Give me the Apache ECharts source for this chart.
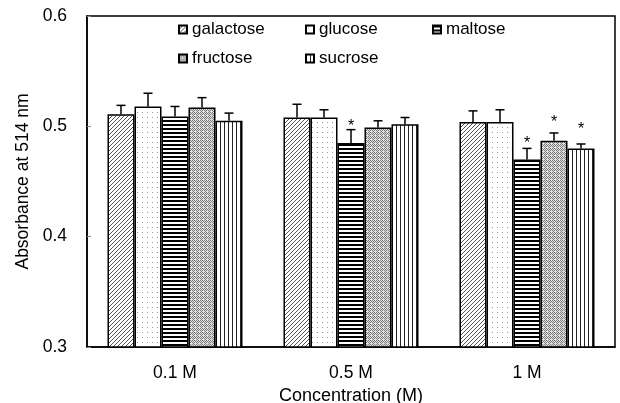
<!DOCTYPE html>
<html>
<head>
<meta charset="utf-8">
<script src="https://cdn.jsdelivr.net/npm/echarts@6/dist/echarts.min.js"></script>
<style>html,body{margin:0;padding:0;background:#fff}#c{width:620px;height:403px}</style>
</head>
<body>
<div id="c"></div>
<script>
const categories = ['0.1 M', '0.5 M', '1 M'];
const seriesNames = ['galactose', 'glucose', 'maltose', 'fructose', 'sucrose'];
const galactose = [0.511, 0.508, 0.504];
const glucose   = [0.518, 0.508, 0.504];
const maltose   = [0.509, 0.485, 0.470];
const fructose  = [0.517, 0.499, 0.487];
const sucrose   = [0.505, 0.502, 0.480];
const galactoseErr = [0.008, 0.012, 0.010];
const glucoseErr   = [0.012, 0.007, 0.011];
const maltoseErr   = [0.009, 0.012, 0.010];
const fructoseErr  = [0.009, 0.006, 0.007];
const sucroseErr   = [0.007, 0.006, 0.004];
// asterisk positions (value on y-axis), null = no mark
const galactoseStar = [null, null, null];
const glucoseStar   = [null, null, null];
const maltoseStar   = [null, 0.5031, 0.4883];
const fructoseStar  = [null, null, 0.507];
const sucroseStar   = [null, null, 0.5004];
const yTicks = [0.3, 0.4, 0.5, 0.6];

const values = [galactose, glucose, maltose, fructose, sucrose];
const errs = [galactoseErr, glucoseErr, maltoseErr, fructoseErr, sucroseErr];
const stars = [galactoseStar, glucoseStar, maltoseStar, fructoseStar, sucroseStar];

const FONT = 'Liberation Sans, Arial, sans-serif';
const BW = 27;

function mk(w, h, draw) {
  const c = document.createElement('canvas');
  c.width = w; c.height = h;
  const g = c.getContext('2d');
  g.fillStyle = '#fff'; g.fillRect(0, 0, w, h);
  draw(g);
  return c;
}
const patterns = [
  // diagonal lines
  mk(4, 4, g => {
    g.fillStyle = '#555';
    for (let i = 0; i < 4; i++) { g.fillRect(3 - i, i, 1, 1); }
  }),
  // sparse dots
  mk(5, 5, g => {
    g.fillStyle = '#999';
    g.fillRect(2, 2, 1, 1);
  }),
  // thick horizontal stripes
  mk(4, 4, g => {
    g.fillStyle = '#000';
    g.fillRect(0, 0, 4, 2);
  }),
  // gray checker
  mk(4, 4, g => {
    g.fillStyle = '#e2e2e2'; g.fillRect(0, 0, 4, 4);
    g.fillStyle = '#7a7a7a';
    g.fillRect(0, 0, 1, 1); g.fillRect(2, 0, 1, 1);
    g.fillRect(1, 1, 1, 1); g.fillRect(3, 1, 1, 1);
    g.fillRect(0, 2, 1, 1); g.fillRect(2, 2, 1, 1);
    g.fillRect(1, 3, 1, 1);
  }),
  // vertical lines
  mk(4, 4, g => {
    g.fillStyle = '#222';
    g.fillRect(0, 0, 1, 4);
  })
];

const series = seriesNames.map((name, i) => ({
  name, type: 'bar', barWidth: BW, barGap: '0%',
  data: values[i],
  itemStyle: { color: { image: patterns[i], repeat: 'repeat' }, borderColor: '#000', borderWidth: 1.5 },
  emphasis: { disabled: true },
  z: 2
}));

const errData = [];
seriesNames.forEach((n, si) => {
  categories.forEach((c, ci) => {
    errData.push([ci, values[si][ci], errs[si][ci], stars[si][ci] == null ? -1 : stars[si][ci], si]);
  });
});

series.push({
  type: 'custom', name: 'err', z: 5, silent: true,
  data: errData,
  encode: { x: 0, y: 1 },
  renderItem: function (params, api) {
    const ci = api.value(0), v = api.value(1), e = api.value(2), st = api.value(3), si = api.value(4);
    const base = api.coord([ci, v]);
    const top = api.coord([ci, v + e]);
    const x = base[0] + (si - 2) * BW;
    const ch = [
      { type: 'line', shape: { x1: x, y1: base[1], x2: x, y2: top[1] }, style: { stroke: '#000', lineWidth: 1.5 } },
      { type: 'line', shape: { x1: x - 4.5, y1: top[1], x2: x + 4.5, y2: top[1] }, style: { stroke: '#000', lineWidth: 1.5 } }
    ];
    if (st > 0) {
      const sp = api.coord([ci, st]);
      ch.push({ type: 'text', x: x, y: sp[1] + 4, style: { text: '*', fill: '#000', font: '16px ' + FONT, align: 'center', verticalAlign: 'middle' } });
    }
    return { type: 'group', children: ch };
  }
});

const legendPos = [[173, 16], [300, 16], [427, 16], [173, 45], [300, 45]];
const legends = seriesNames.map((n, i) => ({
  data: [n], left: legendPos[i][0], top: legendPos[i][1], orient: 'horizontal',
  itemWidth: 8, itemHeight: 8, icon: 'rect', selectedMode: false,
  textStyle: { fontSize: 17, color: '#000', fontFamily: FONT }
}));

const chart = echarts.init(document.getElementById('c'), null, { renderer: 'canvas' });
chart.setOption({
  animation: false,
  backgroundColor: '#fff',
  grid: { left: 87, right: 5, top: 16, bottom: 56, show: true, borderColor: '#000', borderWidth: 1.5, backgroundColor: 'transparent', containLabel: false, outerBoundsMode: 'none' },
  legend: legends,
  xAxis: {
    type: 'category', data: categories,
    axisLine: { lineStyle: { color: '#000', width: 1.5 } },
    axisTick: { inside: true, length: 3, lineStyle: { color: '#888' } },
    axisLabel: { fontSize: 17.5, color: '#000', fontFamily: FONT, margin: 17 },
    name: 'Concentration (M)', nameLocation: 'middle', nameGap: 37,
    nameTextStyle: { fontSize: 18, color: '#000', fontFamily: FONT }
  },
  yAxis: {
    type: 'value', min: yTicks[0], max: yTicks[yTicks.length - 1], interval: 0.1,
    axisLine: { show: true, lineStyle: { color: '#000', width: 1.5 } },
    axisTick: { show: true, inside: true, length: 4, lineStyle: { color: '#888' } },
    splitLine: { show: false },
    axisLabel: { fontSize: 17.5, color: '#000', fontFamily: FONT, margin: 20, formatter: v => v.toFixed(1) },
    name: 'Absorbance at 514 nm', nameLocation: 'middle', nameGap: 54,
    nameTextStyle: { fontSize: 17.5, color: '#000', fontFamily: FONT }
  },
  series
});
</script>
</body>
</html>
